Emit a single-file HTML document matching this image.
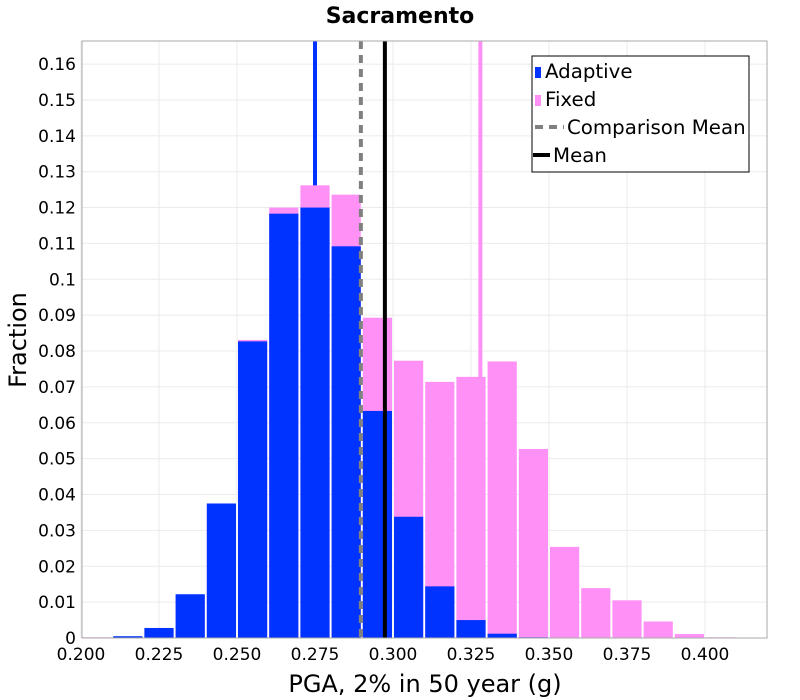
<!DOCTYPE html>
<html><head><meta charset="utf-8"><style>
body{margin:0;background:#fff;}
svg{display:block;font-family:"DejaVu Sans","Liberation Sans",sans-serif;}
</style></head><body>
<svg id="chart" width="800" height="700" xmlns="http://www.w3.org/2000/svg">
<text x="400" y="23" text-anchor="middle" font-size="22" font-weight="bold">Sacramento</text>
<g id="grid"></g>
<g id="lines"></g>
<g id="bars"></g>
<g id="toplines"></g>
<rect x="82" y="41" width="685" height="597" fill="none" stroke="#aaa" stroke-width="1"/>
<g id="axes"></g>
<text x="425" y="692" text-anchor="middle" font-size="24">PGA, 2% in 50 year (g)</text>
<text transform="translate(26,340) rotate(-90)" text-anchor="middle" font-size="24">Fraction</text>
<g>
<rect x="532" y="56" width="217" height="116" fill="#fff" stroke="#000" stroke-width="1"/>
<rect x="535" y="67" width="6" height="11" fill="#0033ff"/>
<text x="545" y="78" font-size="19.8">Adaptive</text>
<rect x="535" y="95" width="6" height="11" fill="#ff90f6"/>
<text x="545" y="106" font-size="19.8">Fixed</text>
<line x1="535" y1="127" x2="564" y2="127" stroke="#808080" stroke-width="4" stroke-dasharray="8,6"/>
<text x="567" y="134" font-size="19.8">Comparison Mean</text>
<line x1="533" y1="155" x2="550" y2="155" stroke="#000" stroke-width="4"/>
<text x="553" y="162" font-size="19.8">Mean</text>
</g>
</svg>
<script>
const binStarts=[0.20,0.21,0.22,0.23,0.24,0.25,0.26,0.27,0.28,0.29,0.30,0.31,0.32,0.33,0.34,0.35,0.36,0.37,0.38,0.39,0.40];
const adaptive=[0,0.0005,0.0028,0.0122,0.0375,0.0827,0.1183,0.1200,0.1092,0.0633,0.0338,0.0144,0.0050,0.0012,0.0002,0,0,0,0,0,0];
const fixed=[0.0002,0.0003,0.0025,0.012,0.037,0.0831,0.1200,0.1262,0.1236,0.0893,0.0773,0.0714,0.0728,0.0771,0.0527,0.0254,0.0139,0.0105,0.0046,0.0011,0.0002];
const binWidth=0.01;
const adaptiveMean=0.2750, fixedMean=0.3280, comparisonMean=0.2897, overallMean=0.2974;
const xTicks=[0.200,0.225,0.250,0.275,0.300,0.325,0.350,0.375,0.400];
const yTicks=[0,0.01,0.02,0.03,0.04,0.05,0.06,0.07,0.08,0.09,0.1,0.11,0.12,0.13,0.14,0.15,0.16];
const X0=81,XS=3120,Y0=638,YS=3587,TOPY=41;
const xs=v=>X0+(v-0.2)*XS, ys=v=>Y0-v*YS;
const NS="http://www.w3.org/2000/svg";
function mk(p,t,a){const e=document.createElementNS(NS,t);for(const k in a)e.setAttribute(k,a[k]);p.appendChild(e);return e;}
const gridG=document.getElementById('grid'),barsG=document.getElementById('bars'),linesG=document.getElementById('lines'),axesG=document.getElementById('axes'),topG=document.getElementById('toplines');
xTicks.forEach(t=>{
 const l=mk(gridG,'line',{x1:xs(t),x2:xs(t),y1:TOPY,y2:Y0,stroke:'#ebebeb'});
 
 
 const tx=mk(axesG,'text',{x:xs(t),y:Y0+22,'text-anchor':'middle','font-size':17});
 tx.textContent=t.toFixed(3);
 
 
});
yTicks.forEach(t=>{
 const l=mk(gridG,'line',{x1:82,x2:767,y1:ys(t),y2:ys(t),stroke:'#ebebeb'});
 
 
 const tx=mk(axesG,'text',{x:76,y:ys(t)+6,'text-anchor':'end','font-size':17});
 tx.textContent=String(+t.toFixed(2));
 
 
});
const la=mk(linesG,'line',{x1:xs(adaptiveMean),x2:xs(adaptiveMean),y1:TOPY,y2:Y0,stroke:'#0033ff','stroke-width':4});


const lf=mk(linesG,'line',{x1:xs(fixedMean),x2:xs(fixedMean),y1:TOPY,y2:Y0,stroke:'#ff90f6','stroke-width':4});


binStarts.forEach((b,i)=>{
 const x=xs(b)+1,w=binWidth*XS-2;
 if(fixed[i]>0){const r=mk(barsG,'rect',{x:x,y:ys(fixed[i]),width:w,height:fixed[i]*YS,fill:'#ff90f6'});
 
 }
 if(adaptive[i]>0){const r=mk(barsG,'rect',{x:x,y:ys(adaptive[i]),width:w,height:adaptive[i]*YS,fill:'#0033ff'});
 
 }
});
const lc=mk(topG,'line',{x1:xs(comparisonMean),x2:xs(comparisonMean),y1:TOPY,y2:Y0,stroke:'#808080','stroke-width':4,'stroke-dasharray':'8,6'});


const lm=mk(topG,'line',{x1:xs(overallMean),x2:xs(overallMean),y1:TOPY,y2:Y0,stroke:'#000','stroke-width':4});


</script>
</body></html>
